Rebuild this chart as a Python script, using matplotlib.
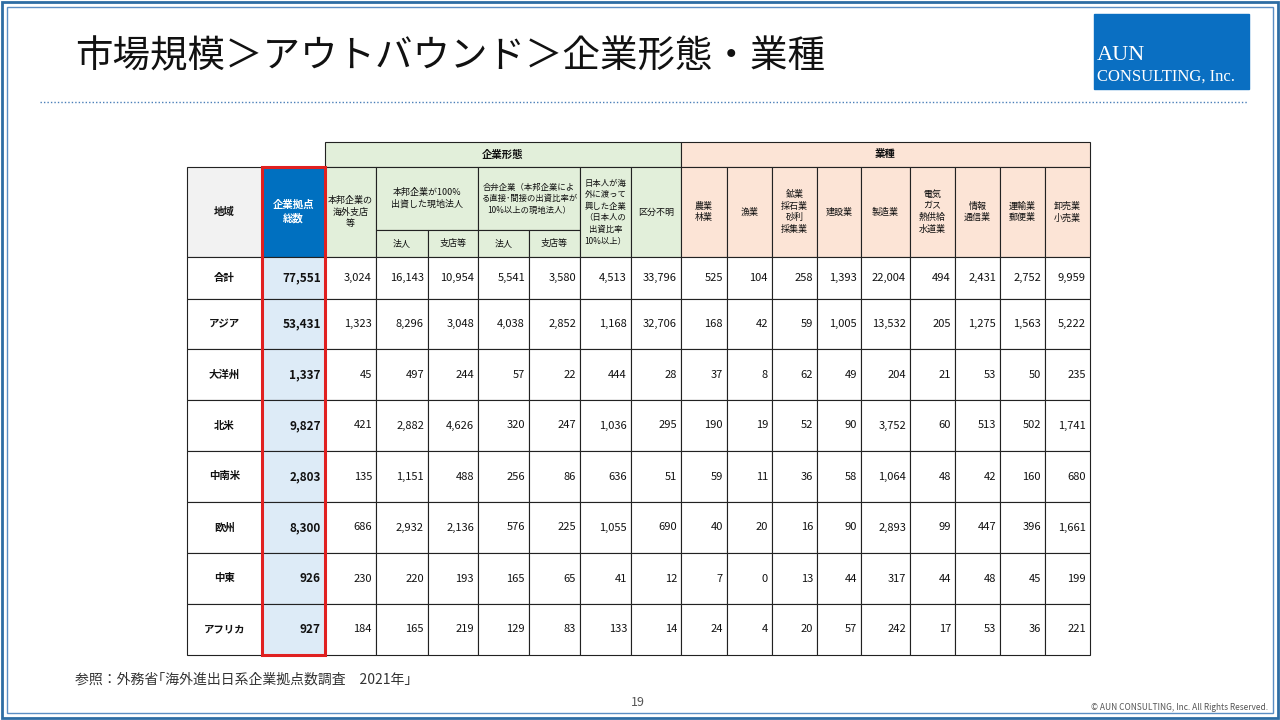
import matplotlib
matplotlib.use("Agg")
import matplotlib.pyplot as plt
from matplotlib.patches import Rectangle

plt.rcParams["font.family"] = ["Noto Sans CJK JP"]

regions = ["合計", "アジア", "大洋州", "北米", "中南米", "欧州", "中東", "アフリカ"]
totals = [77551, 53431, 1337, 9827, 2803, 8300, 926, 927]
branch = [3024, 1323, 45, 421, 135, 686, 230, 184]
full_corp = [16143, 8296, 497, 2882, 1151, 2932, 220, 165]
full_branch = [10954, 3048, 244, 4626, 488, 2136, 193, 219]
jv_corp = [5541, 4038, 57, 320, 256, 576, 165, 129]
jv_branch = [3580, 2852, 22, 247, 86, 225, 65, 83]
jp_founded = [4513, 1168, 444, 1036, 636, 1055, 41, 133]
unknown = [33796, 32706, 28, 295, 51, 690, 12, 14]
agri = [525, 168, 37, 190, 59, 40, 7, 24]
fish = [104, 42, 8, 19, 11, 20, 0, 4]
mining = [258, 59, 62, 52, 36, 16, 13, 20]
constr = [1393, 1005, 49, 90, 58, 90, 44, 57]
manuf = [22004, 13532, 204, 3752, 1064, 2893, 317, 242]
util = [494, 205, 21, 60, 48, 99, 44, 17]
info = [2431, 1275, 53, 513, 42, 447, 48, 53]
trans = [2752, 1563, 50, 502, 160, 396, 45, 36]
retail = [9959, 5222, 235, 1741, 680, 1661, 199, 221]

form_cols = [branch, full_corp, full_branch, jv_corp, jv_branch, jp_founded, unknown]
ind_cols = [agri, fish, mining, constr, manuf, util, info, trans, retail]
ind_labels = ["農業\n林業", "漁業", "鉱業\n採石業\n砂利\n採集業", "建設業", "製造業",
              "電気\nガス\n熱供給\n水道業", "情報\n通信業", "運輸業\n郵便業", "卸売業\n小売業"]

fig = plt.figure(figsize=(12.8, 7.2), dpi=100)
ax = fig.add_axes([0, 0, 1, 1])
ax.set_xlim(0, 1280); ax.set_ylim(720, 0); ax.axis("off")

# frame
ax.add_patch(Rectangle((2, 2), 1276, 716, fill=False, ec="#2e6da4", lw=2))
ax.add_patch(Rectangle((7, 7), 1266, 706, fill=False, ec="#5b8ec4", lw=1))
ax.text(75, 57, "市場規模＞アウトバウンド＞企業形態・業種", fontsize=27, va="center", ha="left", color="#111")
ax.plot([40, 1248], [102, 102], ls=(0, (1, 1.5)), color="#4a7fb8", lw=1)
# logo
ax.add_patch(Rectangle((1094, 14), 155, 75, color="#0a6fc2"))
ax.text(1097, 55, "AUN", fontsize=16, color="white", family="Liberation Serif", va="center")
ax.text(1097, 77, "CONSULTING, Inc.", fontsize=12, color="white", family="Liberation Serif", va="center")

xs = [187, 262, 325, 376, 428, 478, 529, 580, 631, 681, 727, 772, 817, 861, 910, 955, 1000, 1045, 1090]
ys = [257, 299, 349, 400, 451, 502, 553, 604, 655]
lc = "#222"

def cell(x0, x1, y0, y1, fc="white", text="", fs=7, color="#111", bold=False, ha="center"):
    ax.add_patch(Rectangle((x0, y0), x1 - x0, y1 - y0, fc=fc, ec=lc, lw=0.8))
    if text:
        tx = (x0 + x1) / 2 if ha == "center" else x1 - 4
        ax.text(tx, (y0 + y1) / 2, text, fontsize=fs, ha=ha, va="center", color=color,
                fontweight="bold" if bold else "normal", linespacing=1.35)

green = "#e2efda"; peach = "#fce4d6"
cell(xs[2], xs[9], 142, 167, green, "企業形態", 7.5, bold=True)
cell(xs[9], xs[18], 142, 167, peach, "業種", 7.5, bold=True)
cell(xs[0], xs[1], 167, 257, "#f2f2f2", "地域", 7.5, bold=True)
cell(xs[1], xs[2], 167, 257, "#0070c0", "企業拠点\n総数", 7.5, color="white", bold=True)
cell(xs[2], xs[3], 167, 257, green, "本邦企業の\n海外支店\n等", 6.5)
cell(xs[3], xs[5], 167, 230, green, "本邦企業が100%\n出資した現地法人", 6.5)
cell(xs[5], xs[7], 167, 230, green, "合弁企業（本邦企業によ\nる直接･間接の出資比率が\n10%以上の現地法人）", 6)
for i, t in zip(range(3, 7), ["法人", "支店等", "法人", "支店等"]):
    cell(xs[i], xs[i + 1], 230, 257, green, t, 6.5)
cell(xs[7], xs[8], 167, 257, green, "日本人が海\n外に渡って\n興した企業\n（日本人の\n出資比率\n10%以上）", 6)
cell(xs[8], xs[9], 167, 257, green, "区分不明", 6.5)
for j, t in enumerate(ind_labels):
    cell(xs[9 + j], xs[10 + j], 167, 257, peach, t, 6.5)

for r, reg in enumerate(regions):
    y0, y1 = ys[r], ys[r + 1]
    cell(xs[0], xs[1], y0, y1, "white", reg, 7.5, bold=True)
    cell(xs[1], xs[2], y0, y1, "#ddebf7", f"{totals[r]:,}", 8.5, bold=True, ha="right")
    for c, col in enumerate(form_cols + ind_cols):
        cell(xs[2 + c], xs[3 + c], y0, y1, "white", f"{col[r]:,}", 8, ha="right")

ax.add_patch(Rectangle((xs[1], 167), xs[2] - xs[1], ys[-1] - 167, fill=False, ec="#e02020", lw=2.2))

ax.text(75, 680, "参照：外務省｢海外進出日系企業拠点数調査　2021年｣", fontsize=10, va="center", color="#333")
ax.text(638, 703, "19", fontsize=9, ha="center", va="center", color="#555")
ax.text(1268, 707, "© AUN CONSULTING, Inc. All Rights Reserved.", fontsize=6, ha="right", va="center", color="#555")

fig.savefig("out.png", dpi=100)
